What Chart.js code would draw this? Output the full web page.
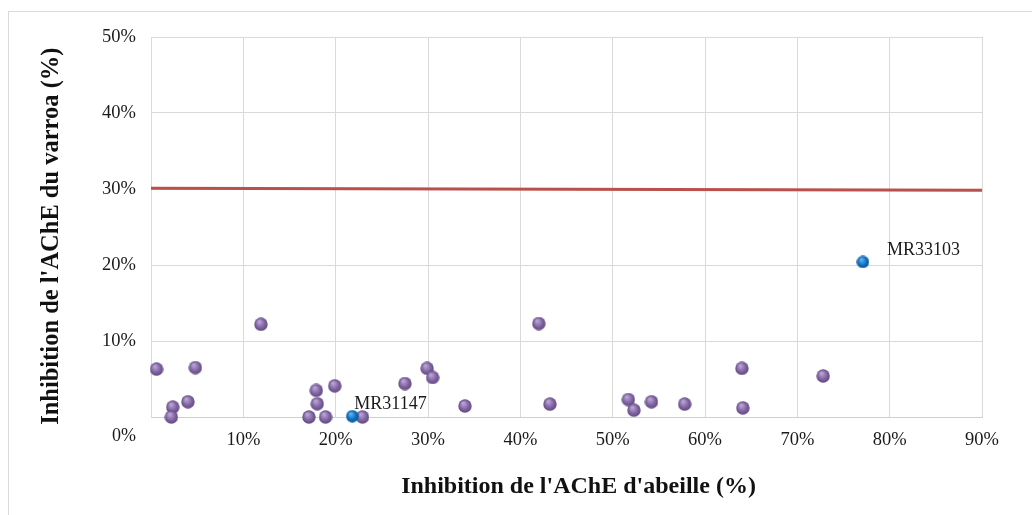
<!DOCTYPE html>
<html lang="fr">
<head>
  <meta charset="UTF-8" />
  <title>Inhibition de l'AChE</title>
  <script src="https://cdn.jsdelivr.net/npm/chart.js"></script>
  <style>
    body {
      margin: 0;
      background: white;
    }
    #frame {
      position: absolute;
      left: 8px;
      top: 11px;
      right: 0;
      bottom: 0;
      border-left: 1px solid #d9d9d9;
      border-top: 1px solid #d9d9d9;
    }
    #wrap {
      position: absolute;
      left: 0;
      top: 0;
      width: 1032px;
      height: 515px;
    }
  </style>
</head>
<body>
  <div id="frame"></div>
  <div id="wrap"><canvas id="scatter"></canvas></div>

  <script>
    // inhibition (%) : abeille en x, varroa en y
    const abeille = [0.6, 4.8, 2.35, 2.2, 4.0, 11.9, 17.9, 18.0, 19.9, 17.1, 18.9, 22.9,
                     27.5, 29.9, 30.5, 34.0, 42.0, 43.2, 51.7, 52.3, 54.2, 57.8, 64.0, 64.1, 72.8];
    const varroa  = [6.3, 6.5, 1.3, 0.0, 2.0, 12.2, 3.5, 1.75, 4.1, 0.0, 0.0, 0.0,
                     4.4, 6.4, 5.2, 1.45, 12.3, 1.7, 2.3, 0.9, 2.0, 1.7, 6.4, 1.2, 5.4];

    // composés retenus
    const selNoms = ["MR31147", "MR33103"];
    const selAbeille = [21.8, 77.1];
    const selVarroa = [0.1, 20.4];

    // seuil
    const seuilX = [0, 90];
    const seuilY = [30.1, 29.85];

    const xTicks = [0, 10, 20, 30, 40, 50, 60, 70, 80, 90];
    const yTicks = [0, 10, 20, 30, 40, 50];

    const serif = '"Liberation Serif", "Times New Roman", serif';

    // little shaded ball used as point style
    function makeBall(base, light, dark, d) {
      const c = document.createElement("canvas");
      c.width = d; c.height = d;
      const g = c.getContext("2d");
      const r = d / 2;
      const grad = g.createRadialGradient(r * 0.75, r * 0.6, r * 0.1, r, r, r);
      grad.addColorStop(0, light);
      grad.addColorStop(0.6, base);
      grad.addColorStop(1, dark);
      g.fillStyle = grad;
      g.beginPath();
      g.arc(r, r, r - 0.3, 0, Math.PI * 2);
      g.fill();
      return c;
    }

    const purpleBall = makeBall("#8064a2", "#b9a5d4", "#5e477c", 14);
    const blueBall = makeBall("#0b72c2", "#62b2ee", "#07548f", 13);

    const toPts = (xs, ys) => xs.map((x, i) => ({ x: x, y: ys[i] }));

    // point labels + the lone 0% label of the y axis
    const extras = {
      id: "extras",
      afterDatasetsDraw(chart) {
        const ctx = chart.ctx;
        ctx.save();
        ctx.font = "18px " + serif;
        ctx.fillStyle = "#1a1a1a";
        ctx.textBaseline = "middle";
        ctx.textAlign = "left";
        const meta = chart.getDatasetMeta(1);
        const offs = [[2, -12], [24, -12]];
        meta.data.forEach((pt, i) => {
          ctx.fillText(selNoms[i], pt.x + offs[i][0], pt.y + offs[i][1]);
        });
        const ys = chart.scales.y;
        ctx.textAlign = "right";
        ctx.fillText("0%", ys.right - 15, ys.getPixelForValue(0) + 19);
        ctx.restore();
      }
    };

    new Chart(document.getElementById("scatter"), {
      type: "scatter",
      data: {
        datasets: [
          {
            label: "Composés",
            data: toPts(abeille, varroa),
            pointStyle: purpleBall,
            clip: false,
            order: 2
          },
          {
            label: "Sélection",
            data: toPts(selAbeille, selVarroa),
            pointStyle: blueBall,
            clip: false,
            order: 1
          },
          {
            label: "Seuil",
            type: "line",
            data: toPts(seuilX, seuilY),
            borderColor: "#b9504c",
            borderWidth: 3,
            pointRadius: 0,
            order: 3
          }
        ]
      },
      options: {
        responsive: true,
        maintainAspectRatio: false,
        animation: false,
        layout: { padding: { top: 37, right: 50, left: 0, bottom: 0 } },
        plugins: {
          legend: { display: false },
          tooltip: { enabled: false }
        },
        scales: {
          x: {
            type: "linear",
            min: 0,
            max: 90,
            afterBuildTicks: s => { s.ticks = xTicks.map(v => ({ value: v })); },
            afterFit: s => { s.height = 98; },
            grid: { color: "#d9d9d9", drawTicks: false },
            border: { color: "#cfcfcf" },
            ticks: {
              padding: 12,
              color: "#1a1a1a",
              font: { family: serif, size: 18.5 },
              maxRotation: 0,
              callback: v => (v === 0 ? "" : v + "%")
            },
            title: {
              display: true,
              // leading spaces nudge the centred title a little to the right
              text: "    Inhibition de l'AChE d'abeille (%)",
              color: "#111",
              font: { family: serif, size: 24, weight: "bold" },
              padding: { top: 0, bottom: 14 }
            }
          },
          y: {
            type: "linear",
            min: 0,
            max: 50,
            afterBuildTicks: s => { s.ticks = yTicks.map(v => ({ value: v })); },
            afterFit: s => { s.width = 151; },
            grid: { color: "#d9d9d9", drawTicks: false },
            border: { color: "#d9d9d9" },
            ticks: {
              padding: 15,
              color: "#1a1a1a",
              font: { family: serif, size: 18.5 },
              callback: v => (v === 0 ? "" : v + "%")
            },
            title: {
              display: true,
              // trailing spaces move the rotated title slightly downwards
              text: "Inhibition de l'AChE du varroa (%)   ",
              color: "#111",
              font: { family: serif, size: 24.5, weight: "bold" },
              padding: { top: 37, bottom: 0 }
            }
          }
        }
      },
      plugins: [extras]
    });
  </script>
</body>
</html>
